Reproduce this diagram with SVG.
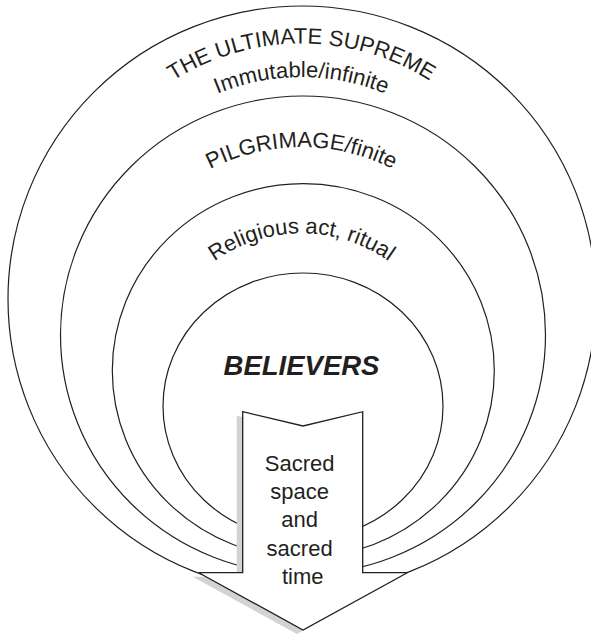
<svg xmlns="http://www.w3.org/2000/svg" width="591" height="637" viewBox="0 0 591 637">
  <style>
    .ring { fill: none; stroke: #231f20; stroke-width: 1.2; }
    .lbl { font-family: "Liberation Sans", Arial, sans-serif; font-size: 22px; fill: #231f20; }
    .bold { font-family: "Liberation Sans", Arial, sans-serif; font-size: 27.5px; font-weight: bold; font-style: italic; fill: #231f20; }
    .arrow { fill: #ffffff; stroke: #231f20; stroke-width: 1.3; stroke-linejoin: miter; }
    .shadow { fill: #d1d3d4; stroke: none; }
  </style>
  <defs>
    <path id="arcSupreme" d="M 76 201.4 A 240 240 0 0 1 527 201.4"/>
    <path id="arcImmutable" d="M 94.8 221.8 A 220 220 0 0 1 508.2 221.8"/>
    <path id="arcPilgrimage" d="M 113.6 278.6 A 200 200 0 0 1 489.4 278.6"/>
    <path id="arcRitual" d="M 160.5 332.2 A 150 150 0 0 1 442.5 332.2"/>
    <polygon id="arrowShape" points="242.7,411.7 303,426 362.7,411.7 362.7,572.7 407.3,572.7 303,630 198.7,572.7 242.7,572.7"/>
  </defs>

  <g id="ultimate-supreme">
    <ellipse class="ring" cx="302" cy="299" rx="294" ry="293"/>
    <text class="lbl"><textPath href="#arcSupreme" startOffset="50%" text-anchor="middle">THE ULTIMATE SUPREME</textPath></text>
    <text class="lbl"><textPath href="#arcImmutable" startOffset="50%" text-anchor="middle">Immutable/infinite</textPath></text>
  </g>

  <g id="pilgrimage">
    <ellipse class="ring" cx="303" cy="335" rx="242.5" ry="239"/>
    <text class="lbl"><textPath href="#arcPilgrimage" startOffset="50%" text-anchor="middle">PILGRIMAGE/finite</textPath></text>
  </g>

  <g id="religious-act">
    <ellipse class="ring" cx="303.3" cy="370.6" rx="191" ry="187"/>
    <text class="lbl"><textPath href="#arcRitual" startOffset="50%" text-anchor="middle">Religious act, ritual</textPath></text>
  </g>

  <g id="believers">
    <ellipse class="ring" cx="303" cy="406" rx="140" ry="133"/>
    <text class="bold" x="301.5" y="375" text-anchor="middle">BELIEVERS</text>
  </g>

  <g id="connectors"></g>

  <g id="sacred-space-time">
    <use href="#arrowShape" class="shadow" transform="translate(-6,4)"/>
    <use href="#arrowShape" class="arrow"/>
    <text class="lbl" text-anchor="middle">
      <tspan x="302.7" y="470.7">Sacred</tspan>
      <tspan x="302.7" y="499.3">space</tspan>
      <tspan x="302.7" y="527.3">and</tspan>
      <tspan x="302.7" y="555.7">sacred</tspan>
      <tspan x="302.7" y="584">time</tspan>
    </text>
  </g>
</svg>
